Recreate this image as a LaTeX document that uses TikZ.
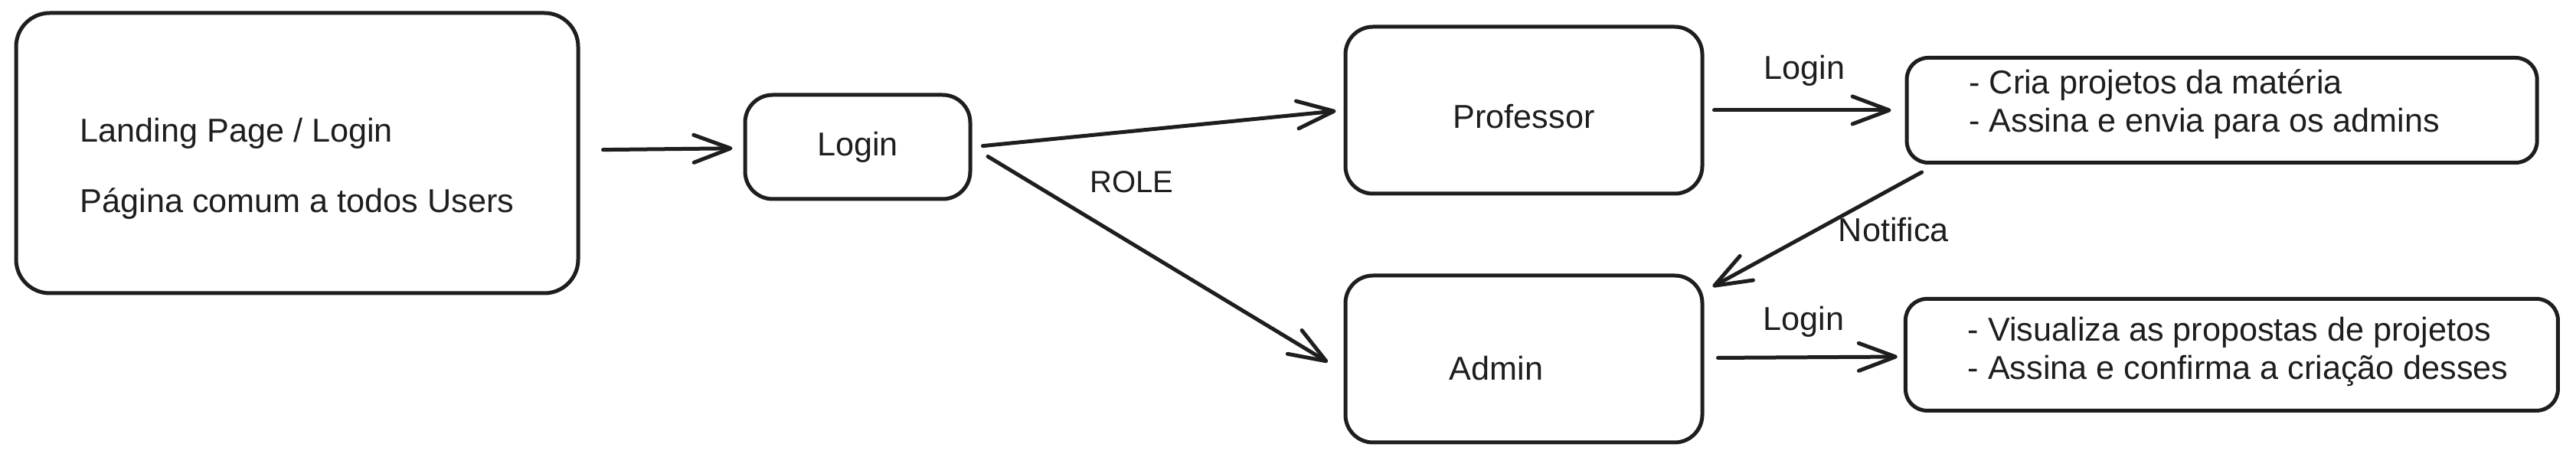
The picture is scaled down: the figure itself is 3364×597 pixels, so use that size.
\documentclass[tikz,border=0pt]{standalone}
\usepackage{fontspec}
\setmainfont{Liberation Sans}
\usetikzlibrary{positioning,arrows.meta}
\definecolor{ink}{HTML}{1E1E1E}

\begin{document}
\begin{tikzpicture}[x=0.25pt, y=-0.25pt, ->, >={Straight Barb[length=12pt,width=9pt,round]}, color=ink, line width=1.25pt, line cap=round, node distance=183pt, font=\fontsize{10.8}{12.5}\selectfont, every label/.append style={text=ink, font=\fontsize{10.8}{12.5}\selectfont}]
    \tikzstyle{box}=[rectangle, rounded corners=9pt, draw=ink, fill=white, inner sep=0pt]
    \tikzstyle{page}=[box, rounded corners=11pt, minimum width=183.5pt, minimum height=91.5pt]
    \tikzstyle{gate}=[box, minimum width=73.5pt, minimum height=34pt]
    \tikzstyle{role}=[box, minimum width=116.5pt, minimum height=54.5pt]
    \tikzstyle{task}=[box, rounded corners=7pt];

    \useasboundingbox (0,0) rectangle (3364,597);

    % Draw the landing page and the login
    \node[page, label={[align=left, yshift=-5pt]center:{Landing Page / Login\\[10.5pt]Página comum a todos Users}}] (landing) at (388,200) {};
    \node[gate, label=center:Login, right of=landing, yshift=2pt] (login) {};

    % Draw the role nodes
    \node[role, label={[yshift=-2pt]center:Professor}, right of=login, node distance=217.5pt, yshift=12pt] (prof) {};
    \node[role, label={[xshift=-9pt, yshift=-3pt]center:Admin}, below of=prof, node distance=81.25pt] (admin) {};

    % Draw the task boxes
    \node[task, minimum width=205.75pt, minimum height=34.25pt, label={[align=left, anchor=west, xshift=17pt, yshift=2pt]west:{- Cria projetos da matéria\\- Assina e envia para os admins}}, right of=prof, node distance=227.9pt] (profTasks) {};
    \node[task, minimum width=213pt, minimum height=36.5pt, label={[align=left, anchor=west, xshift=17pt, yshift=1pt]west:{- Visualiza as propostas de projetos\\- Assina e confirma a criação desses}}, right of=admin, node distance=231.1pt, yshift=1.4pt] (adminTasks) {};

    % Connect the nodes
    \path (landing) edge[shorten <=7.5pt, shorten >=3.5pt] (login);
    \path (login.east) edge[shorten <=3.5pt, shorten >=2.5pt] (prof.west);
    \path (login.east) edge[shorten <=6pt, shorten >=6pt] node[pos=0.43, yshift=20pt, font=\normalsize] {ROLE} (admin.184);
    \path (prof) edge[shorten <=3.25pt, shorten >=4.5pt] node[yshift=13pt] {Login} (profTasks);
    \path (admin) edge[shorten <=4.5pt, shorten >=2pt] node[yshift=11.5pt] {Login} (adminTasks);
    \path ([xshift=5.5pt, yshift=-2.5pt]profTasks.south west) edge node[right=3pt] {Notifica} ([xshift=2.75pt, yshift=-4.25pt]admin.north east);

\end{tikzpicture}
\end{document}
